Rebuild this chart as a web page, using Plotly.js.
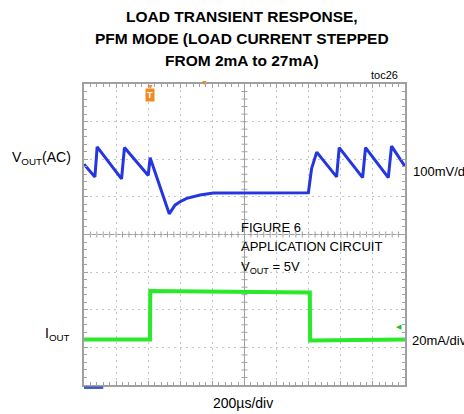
<!DOCTYPE html>
<html>
<head>
<meta charset="utf-8">
<script src="https://cdn.plot.ly/plotly-3.0.1.min.js"></script>
<style>
  html, body { margin: 0; padding: 0; background: #ffffff; }
  #chart { width: 464px; height: 414px; }
</style>
</head>
<body>
<div id="chart"></div>
<script>
// ---- Data (time in µs relative to screen centre) ----
const voutTime = [-1000, -932, -918, -766, -748, -600, -588, -469, -433, -402, -360, -319, -277, -194, 14, 200, 398, 418, 450, 574, 590, 736, 754, 896, 916, 1000];
const voutMv   = [77, 43, 123, 38, 121, 47, 94, -55, -32, -23, -14, -10, -5, 0, 1, 1, 1, 65, 109, 43, 121, 41, 121, 41, 125, 71];

const ioutTime = [-1000, -800, -600, -589, -587, -400, -200, 0, 200, 407, 409, 600, 800, 1000];
const ioutMa   = [2.0, 2.2, 2.0, 2.0, 27.8, 27.6, 27.5, 27.3, 27.2, 27.0, 1.5, 1.7, 1.9, 2.0];

const titleLines = ['LOAD TRANSIENT RESPONSE,', 'PFM MODE (LOAD CURRENT STEPPED', 'FROM 2mA to 27mA)'];
const voutLabel = 'V<sub>OUT</sub>(AC)';
const ioutLabel = 'I<sub>OUT</sub>';
const voutScale = '100mV/div';
const ioutScale = '20mA/div';
const timeScale = '200\u00b5s/div';
const noteLines = ['FIGURE 6', 'APPLICATION CIRCUIT', 'V<sub>OUT</sub> = 5V'];
const tocLabel = 'toc26';
const triggerTime = -588;

const FONT = 'Liberation Sans, Arial, sans-serif';
const BORDER = '#a0a0a0';

const traces = [
  {
    x: ioutTime, y: ioutMa, xaxis: 'x', yaxis: 'y2',
    type: 'scatter', mode: 'lines',
    line: { color: '#2ae82a', width: 4 },
    hoverinfo: 'skip', showlegend: false
  },
  {
    x: voutTime, y: voutMv, xaxis: 'x', yaxis: 'y',
    type: 'scatter', mode: 'lines',
    line: { color: '#2436e0', width: 3 },
    hoverinfo: 'skip', showlegend: false
  }
];

// centre-cross graticule ticks (decoration, paper coordinates)
let crossPath = '';
for (let i = 1; i < 50; i++) {
  const px = i / 50;
  crossPath += `M${px},0.49 L${px},0.51 `;
}
for (let i = 1; i < 40; i++) {
  const py = i / 40;
  crossPath += `M0.4907,${py} L0.5093,${py} `;
}

const ann = (text, x, y, xanchor, size, extra) => Object.assign({
  text: text, x: x, y: y, xref: 'paper', yref: 'paper',
  xanchor: xanchor, yanchor: 'middle', showarrow: false,
  font: { family: FONT, size: size, color: '#000' }
}, extra || {});

const titleFont = { family: FONT, size: 15.5, color: '#000', weight: 'bold' };

const layout = {
  width: 464, height: 414,
  margin: { l: 84, r: 59, t: 84, b: 29, pad: 0 },
  paper_bgcolor: '#ffffff', plot_bgcolor: '#ffffff',
  showlegend: false,
  xaxis: {
    range: [-1000, 1000], tick0: 0, dtick: 200,
    showgrid: true, gridcolor: '#c4c4c4', griddash: '2px,4px', gridwidth: 1,
    zeroline: true, zerolinecolor: BORDER, zerolinewidth: 1,
    showline: true, linecolor: BORDER, linewidth: 2, mirror: 'ticks',
    ticks: 'inside', ticklen: 4, tickcolor: BORDER,
    minor: { tick0: 0, dtick: 40, ticks: 'inside', ticklen: 3, tickcolor: BORDER, showgrid: false },
    showticklabels: false, fixedrange: true
  },
  yaxis: {
    range: [-510, 290], tick0: -10, dtick: 100,
    showgrid: true, gridcolor: '#c4c4c4', griddash: '2px,4px', gridwidth: 1,
    zeroline: false,
    showline: true, linecolor: BORDER, linewidth: 2, mirror: 'ticks',
    ticks: 'inside', ticklen: 4, tickcolor: BORDER,
    minor: { tick0: -10, dtick: 20, ticks: 'inside', ticklen: 3, tickcolor: BORDER, showgrid: false },
    showticklabels: false, fixedrange: true
  },
  yaxis2: { overlaying: 'y', range: [-22.2, 137.8], visible: false, fixedrange: true },
  shapes: [
    { type: 'line', xref: 'paper', yref: 'paper', x0: 0, x1: 1, y0: 0.5, y1: 0.5,
      line: { color: BORDER, width: 1 }, layer: 'below' },
    { type: 'path', xref: 'paper', yref: 'paper', path: crossPath,
      line: { color: BORDER, width: 1 }, layer: 'below' },
    { type: 'rect', xref: 'paper', yref: 'paper', x0: 0, x1: 0.06, y0: -0.013, y1: -0.005,
      fillcolor: '#3a55c8', line: { width: 0 } }
  ],
  annotations: [
    ann(titleLines[0], 0.492, 1.2226, 'center', 15.5, { font: titleFont }),
    ann(titleLines[1], 0.492, 1.1518, 'center', 15.5, { font: titleFont }),
    ann(titleLines[2], 0.492, 1.0797, 'center', 15.5, { font: titleFont }),
    ann(tocLabel, 0.984, 1.03, 'right', 11),
    ann(voutLabel, -0.034, 0.754, 'right', 14),
    ann(ioutLabel, -0.037, 0.17, 'right', 14),
    ann(voutScale, 1.0187, 0.709, 'left', 13),
    ann(ioutScale, 1.0156, 0.1495, 'left', 13),
    ann(timeScale, 0.4953, -0.06, 'center', 14),
    ann(noteLines[0], 0.4829, 0.5216, 'left', 13),
    ann(noteLines[1], 0.4829, 0.4595, 'left', 13),
    ann(noteLines[2], 0.4829, 0.392, 'left', 13),
    // trigger marker
    { text: '<b>T</b>', x: triggerTime, xref: 'x', y: 0.962, yref: 'paper', showarrow: false,
      xanchor: 'center', yanchor: 'middle', bgcolor: '#f28a22', borderpad: 1,
      font: { family: FONT, size: 9, color: '#ffffff' } },
    { text: '\u25BC', x: triggerTime, xref: 'x', y: 0.993, yref: 'paper', showarrow: false,
      xanchor: 'center', yanchor: 'middle', font: { family: FONT, size: 7, color: '#f28a22' } },
    { text: '\u25BC', x: 0.374, xref: 'paper', y: 1.006, yref: 'paper', showarrow: false,
      xanchor: 'center', yanchor: 'middle', font: { family: FONT, size: 7, color: '#f28a22' } },
    // trigger level marker
    { text: '\u25C0', x: 0.981, xref: 'paper', y: 0.196, yref: 'paper', showarrow: false,
      xanchor: 'center', yanchor: 'middle', font: { family: FONT, size: 7, color: '#22c022' } }
  ]
};

Plotly.newPlot('chart', traces, layout, { displayModeBar: false, staticPlot: true });
</script>
</body>
</html>
